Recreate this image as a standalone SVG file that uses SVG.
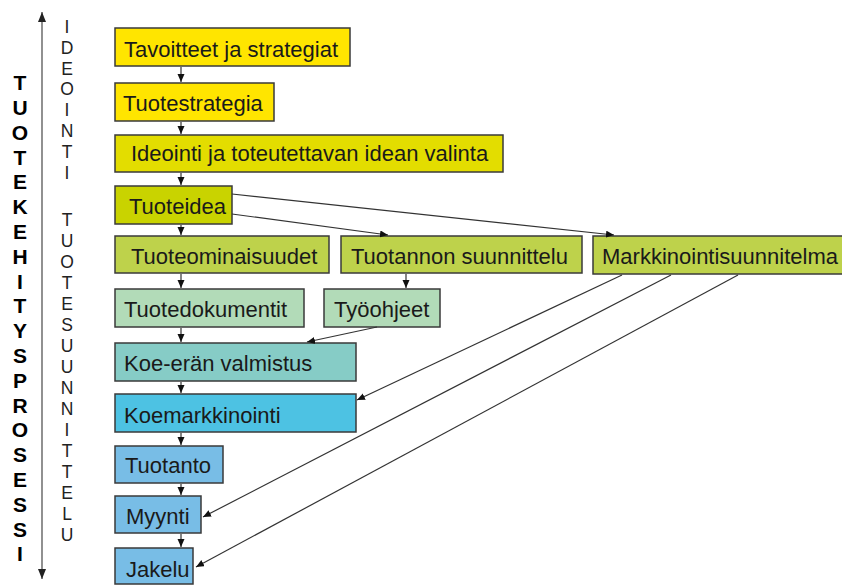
<svg xmlns="http://www.w3.org/2000/svg" width="842" height="586" viewBox="0 0 842 586">
<defs>
<marker id="ah" markerUnits="userSpaceOnUse" markerWidth="9" markerHeight="8" refX="8" refY="3.5" orient="auto">
<path d="M0,0 L8,3.5 L0,7 z" fill="#111"/>
</marker>
<marker id="ahg" markerUnits="userSpaceOnUse" markerWidth="12" markerHeight="10" refX="10" refY="4" orient="auto-start-reverse">
<path d="M0,0 L10,4 L0,8 z" fill="#222"/>
</marker>
<style>
.b{stroke:#3a3a3a;stroke-width:1.5}
.t{font-family:"Liberation Sans",Arial,sans-serif;font-size:22px;fill:#1a1a1a}
.v1{font-family:"Liberation Sans",Arial,sans-serif;font-size:21px;font-weight:bold;fill:#000;text-anchor:middle}
.v2{font-family:"Liberation Sans",Arial,sans-serif;font-size:17.5px;fill:#222;text-anchor:middle}
.c{stroke:#333;stroke-width:1.2;fill:none;marker-end:url(#ah)}
.y1{fill:#FFE500}.y2{fill:#E3DD00}.y3{fill:#C9D300}.g1{fill:#BED24B}.g2{fill:#B2DBB8}.tq{fill:#86CCC6}.cy{fill:#4DC2E3}.bl{fill:#78BDE6}
</style>
</defs>
<rect width="842" height="586" fill="#fff"/>

<g id="axis">
<line x1="42" y1="12" x2="42" y2="579" stroke="#555" stroke-width="1.3" marker-start="url(#ahg)" marker-end="url(#ahg)"/>
</g>
<g id="label-prosessi">
<text class="v1" x="20" y="90">T</text><text class="v1" x="20" y="115">U</text><text class="v1" x="20" y="140">O</text><text class="v1" x="20" y="165">T</text><text class="v1" x="20" y="189">E</text><text class="v1" x="20" y="214">K</text><text class="v1" x="20" y="239">E</text><text class="v1" x="20" y="264">H</text><text class="v1" x="20" y="289">I</text><text class="v1" x="20" y="313">T</text><text class="v1" x="20" y="338">Y</text><text class="v1" x="20" y="363">S</text><text class="v1" x="20" y="388">P</text><text class="v1" x="20" y="413">R</text><text class="v1" x="20" y="437">O</text><text class="v1" x="20" y="462">S</text><text class="v1" x="20" y="487">E</text><text class="v1" x="20" y="512">S</text><text class="v1" x="20" y="537">S</text><text class="v1" x="20" y="561">I</text>
</g>
<g id="label-ideointi">
<text class="v2" x="67" y="33">I</text><text class="v2" x="67" y="54">D</text><text class="v2" x="67" y="75">E</text><text class="v2" x="67" y="95">O</text><text class="v2" x="67" y="116">I</text><text class="v2" x="67" y="137">N</text><text class="v2" x="67" y="158">T</text><text class="v2" x="67" y="179">I</text>
</g>
<g id="label-tuotesuunnittelu">
<text class="v2" x="67" y="226">T</text><text class="v2" x="67" y="247">U</text><text class="v2" x="67" y="268">O</text><text class="v2" x="67" y="289">T</text><text class="v2" x="67" y="310">E</text><text class="v2" x="67" y="331">S</text><text class="v2" x="67" y="352">U</text><text class="v2" x="67" y="373">U</text><text class="v2" x="67" y="394">N</text><text class="v2" x="67" y="415">N</text><text class="v2" x="67" y="436">I</text><text class="v2" x="67" y="457">T</text><text class="v2" x="67" y="478">T</text><text class="v2" x="67" y="499">E</text><text class="v2" x="67" y="520">L</text><text class="v2" x="67" y="541">U</text>
</g>

<g id="n1"><rect class="b y1" x="115" y="28" width="235" height="38"/><text class="t" x="124" y="57">Tavoitteet ja strategiat</text></g>
<g id="n2"><rect class="b y1" x="115" y="83" width="159" height="38"/><text class="t" x="123" y="111">Tuotestrategia</text></g>
<g id="n3"><rect class="b y2" x="115" y="135" width="388" height="37"/><text class="t" x="131" y="161">Ideointi ja toteutettavan idean valinta</text></g>
<g id="n4"><rect class="b y3" x="115" y="186" width="117" height="38"/><text class="t" x="129" y="214">Tuoteidea</text></g>
<g id="n5"><rect class="b g1" x="115" y="236" width="214" height="37"/><text class="t" x="131" y="264">Tuoteominaisuudet</text></g>
<g id="n6"><rect class="b g1" x="341" y="236" width="241" height="37"/><text class="t" x="351" y="264">Tuotannon suunnittelu</text></g>
<g id="n7"><rect class="b g1" x="593" y="236" width="260" height="38"/><text class="t" x="602" y="264">Markkinointisuunnitelma</text></g>
<g id="n8"><rect class="b g2" x="115" y="289" width="189" height="38"/><text class="t" x="124" y="317">Tuotedokumentit</text></g>
<g id="n9"><rect class="b g2" x="324" y="289" width="116" height="38"/><text class="t" x="334" y="317">Työohjeet</text></g>
<g id="n10"><rect class="b tq" x="115" y="343" width="241" height="38"/><text class="t" x="124" y="371">Koe-erän valmistus</text></g>
<g id="n11"><rect class="b cy" x="115" y="394" width="241" height="38"/><text class="t" x="124" y="423">Koemarkkinointi</text></g>
<g id="n12"><rect class="b bl" x="115" y="446" width="108" height="37"/><text class="t" x="125" y="473">Tuotanto</text></g>
<g id="n13"><rect class="b bl" x="115" y="496" width="86" height="37"/><text class="t" x="126" y="524">Myynti</text></g>
<g id="n14"><rect class="b bl" x="115" y="548" width="78" height="36"/><text class="t" x="126" y="577">Jakelu</text></g>

<g id="connectors">
<line class="c" x1="181" y1="67" x2="181" y2="82"/>
<line class="c" x1="181" y1="122" x2="181" y2="134"/>
<line class="c" x1="181" y1="173" x2="181" y2="185"/>
<line class="c" x1="181" y1="225" x2="181" y2="235"/>
<line class="c" x1="181" y1="274" x2="181" y2="288"/>
<line class="c" x1="406" y1="274" x2="406" y2="288"/>
<line class="c" x1="181" y1="328" x2="181" y2="342"/>
<line class="c" x1="181" y1="382" x2="181" y2="393"/>
<line class="c" x1="181" y1="433" x2="181" y2="445"/>
<line class="c" x1="181" y1="484" x2="181" y2="495"/>
<line class="c" x1="181" y1="534" x2="181" y2="547"/>
<line class="c" x1="232" y1="194" x2="614" y2="235"/>
<line class="c" x1="232" y1="214" x2="388" y2="235"/>
<line class="c" x1="377" y1="327" x2="307" y2="342"/>
<line class="c" x1="622" y1="275" x2="357" y2="400"/>
<line class="c" x1="671" y1="275" x2="203" y2="517"/>
<line class="c" x1="738" y1="275" x2="196" y2="567"/>
</g>
</svg>
